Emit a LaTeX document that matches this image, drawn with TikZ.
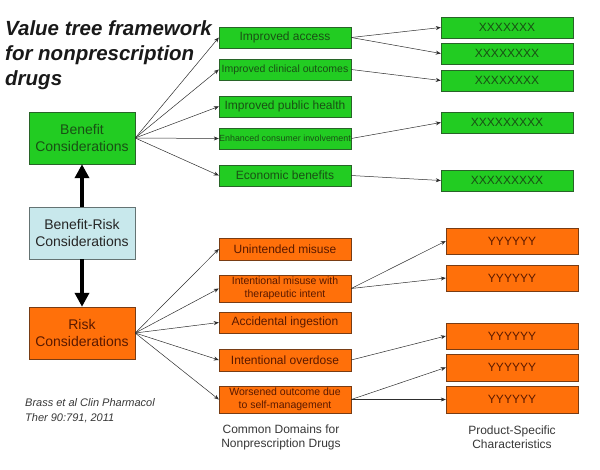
\documentclass[tikz,border=0pt]{standalone}
\usepackage{fontspec}
\setmainfont{Liberation Sans}
\usetikzlibrary{arrows.meta,positioning}
\definecolor{grnfill}{RGB}{34,204,34}
\definecolor{grnline}{RGB}{40,100,40}
\definecolor{grntext}{RGB}{25,80,20}
\definecolor{orgfill}{RGB}{255,112,10}
\definecolor{orgline}{RGB}{120,60,20}
\definecolor{orgtext}{RGB}{90,25,0}
\definecolor{bluefill}{RGB}{200,232,236}
\definecolor{blueline}{RGB}{100,115,115}
\definecolor{linkgray}{RGB}{45,45,45}
\definecolor{labgray}{RGB}{55,55,55}
\tikzset{
  gbox/.style={draw=grnline, fill=grnfill, text=grntext, inner sep=0pt, align=center},
  obox/.style={draw=orgline, fill=orgfill, text=orgtext, inner sep=0pt, align=center},
  bbox/.style={draw=blueline, fill=bluefill, text=black!85, inner sep=0pt, align=center},
  bigbox/.style={minimum width=106pt, minimum height=52pt, font=\fontsize{14}{16.5}\selectfont},
  dom/.style={minimum width=132pt, minimum height=#1},
  prod/.style={minimum width=132pt, minimum height=#1, font=\fontsize{12}{14}\selectfont},
  link/.style={-{Stealth[length=5pt,width=4pt]}, draw=linkgray, line width=0.5pt},
  fat/.style={-{Triangle[length=14pt,width=14pt]}, line width=4pt}
}
\begin{document}
\begin{tikzpicture}[x=1pt,y=-1pt]
        \def\fa{\fontsize{12}{14}\selectfont}
        \def\fb{\fontsize{10.5}{12.7}\selectfont}
        \def\fc{\fontsize{8.9}{10}\selectfont}
        \useasboundingbox (0,0) rectangle (600,469);
        %Title
        \node[anchor=north west, align=left, inner sep=0pt, text=black!90,
          font=\fontsize{20.5}{25}\bfseries\itshape\selectfont] (title) at (5,20)
          {Value tree framework\\for nonprescription\\drugs};
        %Left column
        \node[gbox, bigbox] (ben) at (82,138) {Benefit\\Considerations};
        \node[bbox, bigbox] (br) at (82,233) {Benefit-Risk\\Considerations};
        \node[obox, bigbox] (risk) at (82,333) {Risk\\Considerations};
        %Common domains, benefit side
        \node[gbox, dom=21pt, font=\fa] (acc) at (285,37.5) {Improved access};
        \node[gbox, dom=21pt, font=\fb] (cli) at (285,69.5) {Improved clinical outcomes};
        \node[gbox, dom=21pt, font=\fa] (pub) at (285,106.5) {Improved public health};
        \node[gbox, dom=21pt, font=\fc] (inv) at (285,138.5) {Enhanced consumer involvement};
        \node[gbox, dom=21pt, font=\fa] (eco) at (285,175.5) {Economic benefits};
        %Common domains, risk side
        \node[obox, dom=22pt, font=\fa] (mis) at (285,249) {Unintended misuse};
        \node[obox, dom=27pt, font=\fb] (ther) at (285,288.5) {Intentional misuse with\\therapeutic intent};
        \node[obox, dom=21pt, font=\fa] (ing) at (285,322.5) {Accidental ingestion};
        \node[obox, dom=22pt, font=\fa] (ovd) at (285,360) {Intentional overdose};
        \node[obox, dom=27pt, font=\fb] (self) at (285,399.5) {Worsened outcome due\\to self-management};
        %Product-specific boxes
        \node[gbox, prod=21pt] (x1) at (507,27.5) {XXXXXXX};
        \node[gbox, prod=21pt] (x2) at (507,53.5) {XXXXXXXX};
        \node[gbox, prod=21pt] (x3) at (507,80.5) {XXXXXXXX};
        \node[gbox, prod=21pt] (x4) at (507,122.5) {XXXXXXXXX};
        \node[gbox, prod=21pt] (x5) at (507,180.5) {XXXXXXXXX};
        \node[obox, prod=26pt] (y1) at (512,241) {YYYYYY};
        \node[obox, prod=26pt] (y2) at (512,278) {YYYYYY};
        \node[obox, prod=26pt] (y3) at (512,336) {YYYYYY};
        \node[obox, prod=27pt] (y4) at (512,367.5) {YYYYYY};
        \node[obox, prod=27pt] (y5) at (512,399.5) {YYYYYY};
        %Column labels and source
        \node[align=center, text=labgray, font=\fa] (domlab) at (281,437) {Common Domains for\\Nonprescription Drugs};
        \node[align=center, text=labgray, font=\fa] (prodlab) at (512,437) {Product-Specific\\Characteristics};
        \node[anchor=north west, align=left, inner sep=0pt, text=labgray,
          font=\fontsize{11}{15}\itshape\selectfont] (src) at (25,398.5)
          {Brass et al Clin Pharmacol\\Ther 90:791, 2011};
        %Draw arrows
        \draw[fat] (br.north) -- (ben.south);
        \draw[fat] (br.south) -- (risk.north);
        \foreach \n in {acc,cli,pub,inv,eco}
          \draw[link] (ben.east) -- (\n.west);
        \foreach \n in {mis,ther,ing,ovd,self}
          \draw[link] (risk.east) -- (\n.west);
        \foreach \a/\b in {acc/x1,acc/x2,cli/x3,inv/x4,eco/x5,ther/y1,ther/y2,ovd/y3,self/y4,self/y5}
          \draw[link] (\a.east) -- (\b.west);
\end{tikzpicture}
\end{document}
